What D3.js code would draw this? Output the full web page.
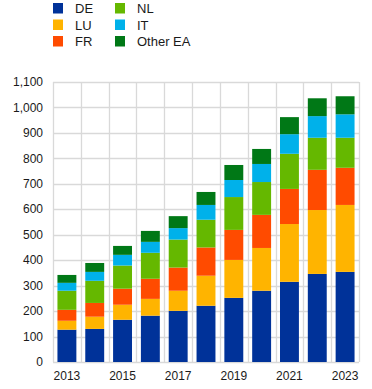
<!DOCTYPE html>
<html lang="en">
<head>
  <meta charset="UTF-8">
  <title>Stacked bars</title>
  <script src="https://cdn.jsdelivr.net/npm/d3@7"></script>
  <style>
    body { margin: 0; background: #fff; }
    text { font-family: "Liberation Sans", Arial, sans-serif; fill: #1a1a1a; }
  </style>
</head>
<body>
  <svg id="chart" width="372" height="389"></svg>
  <script>
    const years = [2013, 2014, 2015, 2016, 2017, 2018, 2019, 2020, 2021, 2022, 2023];
    const seriesNames = ["DE", "LU", "FR", "NL", "IT", "Other EA"];
    const seriesColors = ["#003299", "#ffb400", "#ff4b00", "#65b800", "#00b1ea", "#007816"];
    const DE = [127, 130, 166, 182, 201, 221, 252, 280, 315, 346, 354];
    const LU = [35, 48, 59, 66, 79, 118, 149, 168, 227, 251, 263];
    const FR = [43, 54, 63, 79, 91, 111, 118, 130, 138, 158, 146];
    const NL = [75, 87, 91, 102, 110, 109, 129, 129, 138, 126, 118];
    const IT = [31, 35, 42, 43, 45, 58, 67, 71, 77, 85, 92];
    const OtherEA = [31, 35, 35, 43, 47, 51, 59, 59, 67, 70, 71];
    const yTicks = [0, 100, 200, 300, 400, 500, 600, 700, 800, 900, 1000, 1100];
    const xLabelYears = [2013, 2015, 2017, 2019, 2021, 2023];

    const values = [DE, LU, FR, NL, IT, OtherEA];
    const rows = years.map((y, i) => {
      const r = { year: y };
      seriesNames.forEach((s, j) => r[s] = values[j][i]);
      return r;
    });

    const margin = { top: 82, right: 13, bottom: 27, left: 53 };
    const w = 372, h = 389;
    const svg = d3.select("#chart");

    const x = d3.scaleBand()
      .domain(years)
      .range([margin.left, w - margin.right])
      .paddingInner(0.32)
      .paddingOuter(0.16);

    const y = d3.scaleLinear()
      .domain([0, 1100])
      .range([h - margin.bottom, margin.top]);

    const color = d3.scaleOrdinal().domain(seriesNames).range(seriesColors);

    // grid
    const grid = svg.append("g");
    grid.selectAll("line.h")
      .data(yTicks)
      .enter().append("line")
      .attr("x1", margin.left).attr("x2", w - margin.right)
      .attr("y1", d => Math.round(y(d)) + 0.5).attr("y2", d => Math.round(y(d)) + 0.5)
      .attr("stroke", "#d9d9d9").attr("stroke-width", 1.3);

    const bounds = d3.range(years.length + 1).map(i => margin.left + i * (w - margin.left - margin.right) / years.length);
    grid.selectAll("line.v")
      .data(bounds)
      .enter().append("line")
      .attr("x1", d => Math.round(d) + 0.5).attr("x2", d => Math.round(d) + 0.5)
      .attr("y1", margin.top).attr("y2", h - margin.bottom)
      .attr("stroke", "#d9d9d9").attr("stroke-width", 1.3);

    // bars
    const stack = d3.stack().keys(seriesNames)(rows);
    svg.append("g")
      .selectAll("g")
      .data(stack)
      .enter().append("g")
      .attr("fill", d => color(d.key))
      .selectAll("rect")
      .data(d => d)
      .enter().append("rect")
      .attr("x", d => x(d.data.year))
      .attr("width", x.bandwidth())
      .attr("y", d => y(d[1]))
      .attr("height", d => y(d[0]) - y(d[1]));

    // y axis labels
    svg.append("g")
      .selectAll("text")
      .data(yTicks)
      .enter().append("text")
      .attr("x", margin.left - 10)
      .attr("y", d => y(d))
      .attr("dy", "0.35em")
      .attr("text-anchor", "end")
      .attr("font-size", 12)
      .text(d3.format(","));

    // x axis labels
    svg.append("g")
      .selectAll("text")
      .data(xLabelYears)
      .enter().append("text")
      .attr("x", d => x(d) + x.bandwidth() / 2)
      .attr("y", h - margin.bottom + 18)
      .attr("text-anchor", "middle")
      .attr("font-size", 12)
      .text(d => d);

    // legend
    const legend = svg.append("g");
    const items = legend.selectAll("g")
      .data(seriesNames)
      .enter().append("g")
      .attr("transform", (d, i) => `translate(${53 + Math.floor(i / 3) * 62},${3 + (i % 3) * 16.5})`);
    items.append("rect")
      .attr("width", 10).attr("height", 10.5)
      .attr("fill", d => color(d));
    items.append("text")
      .attr("x", 22).attr("y", 5.5)
      .attr("dy", "0.35em")
      .attr("font-size", 13)
      .text(d => d);
  </script>
</body>
</html>
